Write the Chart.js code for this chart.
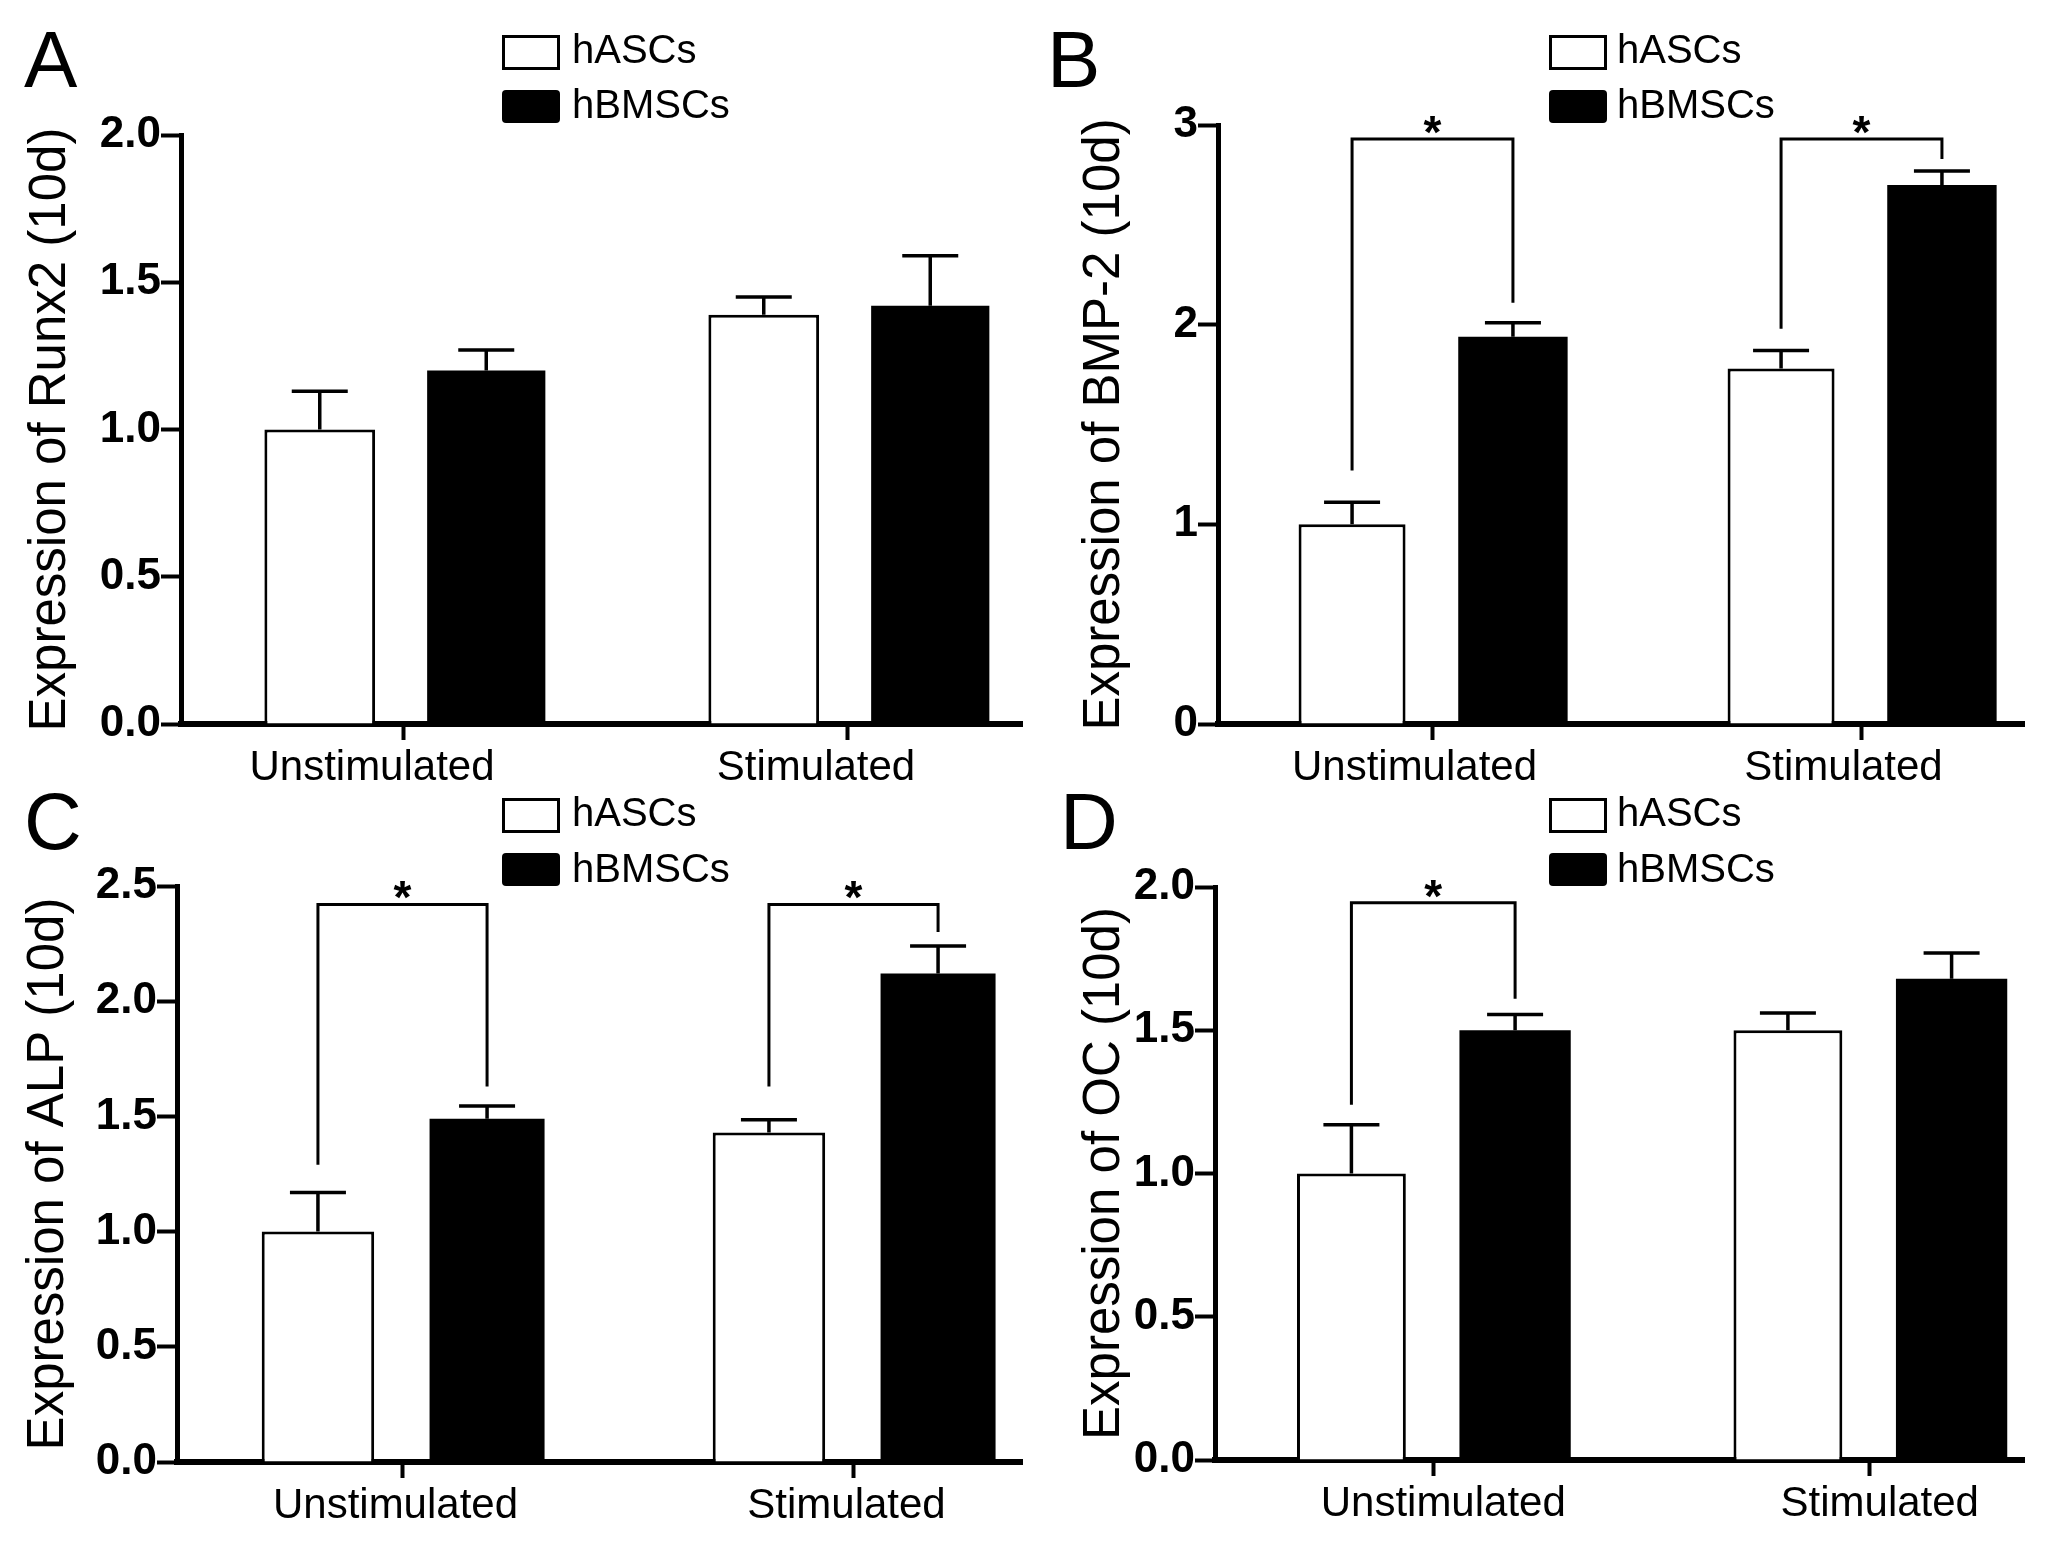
<!DOCTYPE html>
<html><head><meta charset="utf-8">
<script src="https://cdn.jsdelivr.net/npm/chart.js@4.4.1/dist/chart.umd.min.js"></script>
<style>
html,body{margin:0;padding:0;background:#fff;width:2055px;height:1554px;overflow:hidden;}
.panel{position:absolute;overflow:hidden;}
.panel canvas{position:absolute;left:0;top:0;}
</style></head><body>
<div class="panel" style="left:0px;top:0px;width:1023px;height:800px"><canvas id="cA" width="1100" height="800"></canvas></div>
<div class="panel" style="left:1025px;top:0px;width:1000px;height:800px"><canvas id="cB" width="1080" height="800"></canvas></div>
<div class="panel" style="left:0px;top:777px;width:1023px;height:777px"><canvas id="cC" width="1100" height="777"></canvas></div>
<div class="panel" style="left:1025px;top:777px;width:1000px;height:777px"><canvas id="cD" width="1080" height="777"></canvas></div>
<script>
// ---------- DATA ----------
const categories = ['Unstimulated', 'Stimulated'];
const seriesLabels = ['hASCs', 'hBMSCs'];

// A: Runx2
const runx2_hASCs = [1.00, 1.39];
const runx2_hASCs_err = [0.13, 0.06];
const runx2_hBMSCs = [1.20, 1.42];
const runx2_hBMSCs_err = [0.07, 0.17];
const runx2_ticks = ['0.0', '0.5', '1.0', '1.5', '2.0'];
const runx2_sigTop = [null, null];
const runx2_sigLeftEnd = [null, null];
const runx2_sigRightEnd = [null, null];

// B: BMP-2
const bmp2_hASCs = [1.00, 1.78];
const bmp2_hASCs_err = [0.11, 0.09];
const bmp2_hBMSCs = [1.94, 2.70];
const bmp2_hBMSCs_err = [0.07, 0.07];
const bmp2_ticks = ['0', '1', '2', '3'];
const bmp2_sigTop = [2.93, 2.93];
const bmp2_sigLeftEnd = [1.27, 1.98];
const bmp2_sigRightEnd = [2.11, 2.83];

// C: ALP
const alp_hASCs = [1.00, 1.43];
const alp_hASCs_err = [0.17, 0.055];
const alp_hBMSCs = [1.49, 2.12];
const alp_hBMSCs_err = [0.055, 0.12];
const alp_ticks = ['0.0', '0.5', '1.0', '1.5', '2.0', '2.5'];
const alp_sigTop = [2.42, 2.42];
const alp_sigLeftEnd = [1.29, 1.63];
const alp_sigRightEnd = [1.63, 2.30];

// D: OC
const oc_hASCs = [1.00, 1.50];
const oc_hASCs_err = [0.17, 0.06];
const oc_hBMSCs = [1.50, 1.68];
const oc_hBMSCs_err = [0.055, 0.09];
const oc_ticks = ['0.0', '0.5', '1.0', '1.5', '2.0'];
const oc_sigTop = [1.945, null];
const oc_sigLeftEnd = [1.24, null];
const oc_sigRightEnd = [1.61, null];

// ---------- STYLE ----------
const FONT = '"Liberation Sans", Arial, Helvetica, sans-serif';
Chart.defaults.font.family = FONT;
Chart.defaults.color = '#000';

const decor = {
  id: 'decor',
  afterDatasetsDraw(chart, args, o) {
    const ctx = chart.ctx;
    const ys = chart.scales.y;
    ctx.save();
    ctx.strokeStyle = '#000';
    ctx.fillStyle = '#000';
    // error bars (upper only)
    chart.data.datasets.forEach((ds, i) => {
      const meta = chart.getDatasetMeta(i);
      meta.data.forEach((el, j) => {
        const yTop = el.y;
        const yErr = ys.getPixelForValue(ds.data[j] + ds.err[j]);
        ctx.lineWidth = 3.5;
        ctx.beginPath();
        ctx.moveTo(el.x, yTop);
        ctx.lineTo(el.x, yErr);
        ctx.moveTo(el.x - 28, yErr);
        ctx.lineTo(el.x + 28, yErr);
        ctx.stroke();
      });
    });
    // significance brackets
    const m0 = chart.getDatasetMeta(0), m1 = chart.getDatasetMeta(1);
    o.sigTop.forEach((t, j) => {
      if (t === null) return;
      const x0 = m0.data[j].x, x1 = m1.data[j].x;
      const yt = ys.getPixelForValue(t);
      const yl = ys.getPixelForValue(o.sigLeftEnd[j]);
      const yr = ys.getPixelForValue(o.sigRightEnd[j]);
      ctx.lineWidth = 3;
      ctx.beginPath();
      ctx.moveTo(x0, yl); ctx.lineTo(x0, yt); ctx.lineTo(x1, yt); ctx.lineTo(x1, yr);
      ctx.stroke();
      ctx.font = 'bold 46px ' + FONT;
      ctx.textAlign = 'center';
      ctx.textBaseline = 'alphabetic';
      ctx.fillText('*', (x0 + x1) / 2, yt + 9);
    });
    ctx.restore();
  },
  afterDraw(chart, args, o) {
    const ctx = chart.ctx;
    ctx.save();
    ctx.fillStyle = '#000';
    ctx.strokeStyle = '#000';
    // panel letter
    ctx.font = '80px ' + FONT;
    ctx.textAlign = 'left';
    ctx.textBaseline = 'alphabetic';
    ctx.fillText(o.letter, o.letterX, o.letterY);
    // legend
    const L = o.legend;
    ctx.lineWidth = 3;
    ctx.strokeRect(L.boxX + 1.5, L.boxY[0] + 1.5, L.boxW - 3, L.boxH - 3);
    ctx.beginPath();
    if (ctx.roundRect) ctx.roundRect(L.boxX, L.boxY[1], L.boxW, L.boxH - 2, 4); else ctx.rect(L.boxX, L.boxY[1], L.boxW, L.boxH - 2);
    ctx.fill();
    ctx.font = '40px ' + FONT;
    chart.data.datasets.forEach((ds, i) => {
      ctx.fillText(ds.label, L.textX, L.baseline[i]);
    });
    ctx.restore();
  }
};

function makeChart(c) {
  const canvas = document.getElementById(c.id);
  const W = canvas.width, H = canvas.height;
  const A = c.area;
  return new Chart(canvas, {
    type: 'bar',
    data: {
      labels: categories,
      datasets: [
        { label: seriesLabels[0], data: c.a, err: c.aErr, backgroundColor: '#fff', borderColor: '#000', borderWidth: 3, borderSkipped: 'bottom', barPercentage: 0.665 },
        { label: seriesLabels[1], data: c.b, err: c.bErr, backgroundColor: '#000', borderColor: '#000', borderWidth: 0, barPercentage: c.blackBar }
      ]
    },
    options: {
      responsive: false, animation: false, devicePixelRatio: 1,
      layout: { padding: { left: 0, top: A.top, right: W - A.right, bottom: 0 } },
      datasets: { bar: { categoryPercentage: 0.75 } },
      plugins: {
        legend: { display: false }, tooltip: { enabled: false },
        decor: { letter: c.letter, letterX: c.letterX, letterY: c.letterY, legend: c.legend,
                 sigTop: c.sigTop, sigLeftEnd: c.sigLeftEnd, sigRightEnd: c.sigRightEnd }
      },
      scales: {
        x: {
          type: 'category', offset: true,
          grid: { display: true, drawOnChartArea: false, drawTicks: true, offset: false, tickLength: 16, tickWidth: 4, tickColor: '#000', color: '#000' },
          border: { display: true, color: '#000', width: 6 },
          ticks: { color: '#000', font: { size: 42 }, padding: 3, maxRotation: 0, autoSkip: false, labelOffset: c.labelOffset },
          afterFit: s => { s.height = H - A.bottom; }
        },
        y: {
          min: 0, max: c.max,
          ticks: { stepSize: c.step, color: '#000', font: { size: 44, weight: 'bold' }, padding: 0,
                   callback: (v, i) => c.ticks[i] },
          grid: { display: true, drawOnChartArea: false, drawTicks: true, tickLength: 20, tickWidth: 4, tickColor: '#000', color: '#000' },
          border: { display: true, color: '#000', width: 5 },
          title: { display: true, text: c.title, color: '#000', font: { size: 51 }, padding: { top: c.titleX - 30.6, bottom: 0 } },
          afterFit: s => { s.width = A.left; }
        }
      }
    },
    plugins: [decor]
  });
}

const legendTop = { boxX: 502, boxY: [35, 90], boxW: 58, boxH: 35, textX: 572, baseline: [63, 118] };
const legendTopR = { boxX: 524, boxY: [35, 90], boxW: 58, boxH: 35, textX: 592, baseline: [63, 118] };
const legendBot = { boxX: 502, boxY: [21, 76], boxW: 58, boxH: 35, textX: 572, baseline: [49, 105] };
const legendBotR = { boxX: 524, boxY: [21, 76], boxW: 58, boxH: 35, textX: 592, baseline: [49, 105] };

makeChart({ id: 'cA', a: runx2_hASCs, aErr: runx2_hASCs_err, b: runx2_hBMSCs, bErr: runx2_hBMSCs_err,
  ticks: runx2_ticks, max: 2, step: 0.5, title: 'Expression of Runx2 (10d)', blackBar: 0.71,
  sigTop: runx2_sigTop, sigLeftEnd: runx2_sigLeftEnd, sigRightEnd: runx2_sigRightEnd,
  area: { left: 181, top: 135, right: 1069, bottom: 724 }, titleX: 51, labelOffset: -31,
  letter: 'A', letterX: 24, letterY: 87, legend: legendTop });

makeChart({ id: 'cB', a: bmp2_hASCs, aErr: bmp2_hASCs_err, b: bmp2_hBMSCs, bErr: bmp2_hBMSCs_err,
  ticks: bmp2_ticks, max: 3, step: 1, title: 'Expression of BMP-2 (10d)', blackBar: 0.68,
  sigTop: bmp2_sigTop, sigLeftEnd: bmp2_sigLeftEnd, sigRightEnd: bmp2_sigRightEnd,
  area: { left: 193, top: 125, right: 1051, bottom: 724 }, titleX: 80, labelOffset: -18,
  letter: 'B', letterX: 22, letterY: 87, legend: legendTopR });

makeChart({ id: 'cC', a: alp_hASCs, aErr: alp_hASCs_err, b: alp_hBMSCs, bErr: alp_hBMSCs_err,
  ticks: alp_ticks, max: 2.5, step: 0.5, title: 'Expression of ALP (10d)', blackBar: 0.68,
  sigTop: alp_sigTop, sigLeftEnd: alp_sigLeftEnd, sigRightEnd: alp_sigRightEnd,
  area: { left: 177, top: 109, right: 1079, bottom: 685 }, titleX: 49, labelOffset: -7,
  letter: 'C', letterX: 24, letterY: 72, legend: legendBot });

makeChart({ id: 'cD', a: oc_hASCs, aErr: oc_hASCs_err, b: oc_hBMSCs, bErr: oc_hBMSCs_err,
  ticks: oc_ticks, max: 2, step: 0.5, title: 'Expression of OC (10d)', blackBar: 0.68,
  sigTop: oc_sigTop, sigLeftEnd: oc_sigLeftEnd, sigRightEnd: oc_sigRightEnd,
  area: { left: 190, top: 110, right: 1063, bottom: 683 }, titleX: 80, labelOffset: 10,
  letter: 'D', letterX: 35, letterY: 72, legend: legendBotR });
</script>
</body></html>
